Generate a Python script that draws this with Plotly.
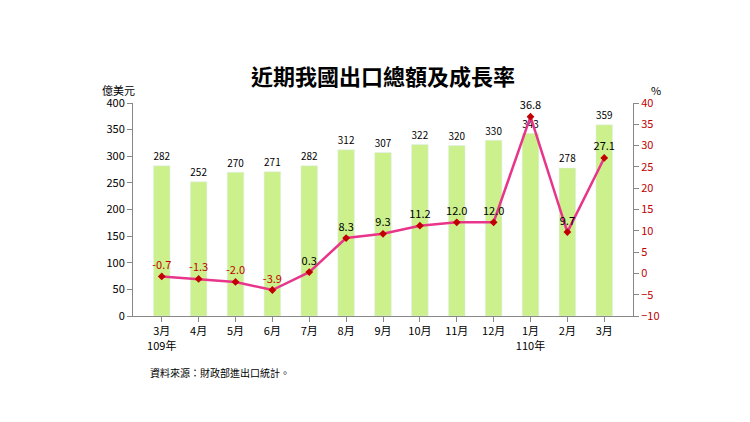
import plotly.graph_objects as go

months = ['3月', '4月', '5月', '6月', '7月', '8月', '9月', '10月', '11月', '12月', '1月', '2月', '3月']
xcat = ['m%d' % i for i in range(len(months))]
exports = [282, 252, 270, 271, 282, 312, 307, 322, 320, 330, 343, 278, 359]
growth = [-0.7, -1.3, -2.0, -3.9, 0.3, 8.3, 9.3, 11.2, 12.0, 12.0, 36.8, 9.7, 27.1]
ticktext = ['3月<br>109年', '4月', '5月', '6月', '7月', '8月', '9月', '10月', '11月', '12月', '1月<br>110年', '2月', '3月']

font = 'Noto Sans CJK TC'
fig = go.Figure()
fig.add_trace(go.Bar(
    x=xcat, y=exports, marker_color='#ccf08c', width=0.45,
    text=[str(v) for v in exports], textposition='outside',
    textfont=dict(size=11, color='black'), cliponaxis=False
))
fig.add_trace(go.Scatter(
    x=xcat, y=growth, yaxis='y2', mode='lines+markers+text',
    line=dict(color='#e8358a', width=2.5),
    marker=dict(symbol='diamond', size=6, color='#c00000'),
    text=['%.1f' % v for v in growth], textposition='top center',
    textfont=dict(size=11, color=['#c00000' if v < 0 else 'black' for v in growth]),
    cliponaxis=False
))
fig.update_layout(
    width=750, height=422, showlegend=False,
    paper_bgcolor='white', plot_bgcolor='white',
    margin=dict(l=125, r=125, t=95, b=114),
    font=dict(family=font, size=11, color='black'),
    title=dict(text='<b>近期我國出口總額及成長率</b>', x=0.5, y=0.855, xanchor='center',
               font=dict(size=22, family=font)),
    xaxis=dict(tickvals=xcat, ticktext=ticktext, showline=True, linecolor='#888',
               ticks='outside', tickcolor='#888'),
    yaxis=dict(range=[0, 400], dtick=50, showline=True, linecolor='#888',
               ticks='outside', tickcolor='#888', showgrid=False),
    yaxis2=dict(range=[-10, 40], dtick=5, overlaying='y', side='right', showline=True,
                linecolor='#888', ticks='outside', tickcolor='#888', showgrid=False,
                tickfont=dict(color='#c00000')),
    annotations=[
        dict(text='億美元', x=-0.03, y=1.11, xref='paper', yref='paper', xanchor='center',
             showarrow=False, font=dict(size=11)),
        dict(text='%', x=1.045, y=1.11, xref='paper', yref='paper', xanchor='center',
             showarrow=False, font=dict(size=11)),
        dict(text='資料來源：財政部進出口統計。', x=0.03, y=-0.31, xref='paper', yref='paper',
             xanchor='left', showarrow=False, font=dict(size=10)),
    ]
)
fig.write_html('out.html')
